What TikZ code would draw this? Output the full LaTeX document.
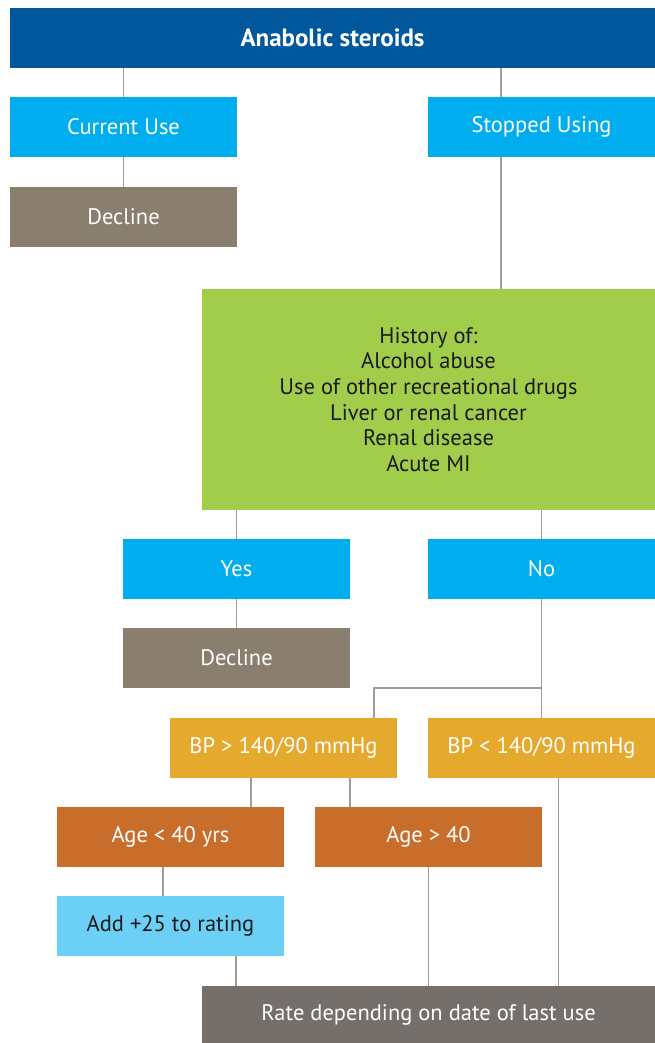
\documentclass[tikz,border=0pt]{standalone}
\usepackage{fontspec}
\setmainfont{PT Sans}
\definecolor{asnavy}{HTML}{00579B}
\definecolor{ascyan}{HTML}{00AEEF}
\definecolor{asbrown}{HTML}{8A7E6E}
\definecolor{asgreen}{HTML}{A2CD4A}
\definecolor{asamber}{HTML}{E5A92E}
\definecolor{asorange}{HTML}{C96D2B}
\definecolor{assky}{HTML}{6CCFF6}
\definecolor{asgray}{HTML}{756F6B}
\definecolor{asink}{HTML}{1A1A1A}
\definecolor{aswire}{HTML}{A39C94}
\tikzstyle{box} = [inner sep=0pt,outer sep=0pt,anchor=north west,minimum width=227pt,minimum height=60pt,align=center,text=white,font=\fontsize{22.5}{25.7}\selectfont]
\tikzstyle{link} = [draw=aswire,line width=1.2pt]

\begin{document}
\begin{tikzpicture}[x=1pt,y=-1pt]
\useasboundingbox (0,0) rectangle (655,1043);
\node[box,fill=asnavy,minimum width=645pt,font=\fontsize{25}{28}\selectfont\bfseries] at (10,8) (top) {Anabolic steroids};
\node[box,fill=ascyan] at (10,97) (cur) {Current Use};
\node[box,fill=ascyan] at (428,97) (stop) {Stopped Using};
\node[box,fill=asbrown] at (10,187) (dec1) {Decline};
\node[box,fill=asgreen,text=asink,minimum width=453pt,minimum height=221pt] at (202,289) (hist) {History of:\\Alcohol abuse\\Use of other recreational drugs\\Liver or renal cancer\\Renal disease\\Acute MI};
\node[box,fill=ascyan] at (123,539) (yes) {Yes};
\node[box,fill=ascyan] at (428,539) (no) {No};
\node[box,fill=asbrown] at (123,628) (dec2) {Decline};
\node[box,fill=asamber] at (170,718) (bphi) {BP > 140/90 mmHg};
\node[box,fill=asamber] at (428,718) (bplo) {BP < 140/90 mmHg};
\node[box,fill=asorange] at (57,807) (agelo) {Age < 40 yrs};
\node[box,fill=asorange] at (315,807) (agehi) {Age > 40};
\node[box,fill=assky,text=asink] at (57,896) (add) {Add +25 to rating};
\node[box,fill=asgray,minimum width=453pt,minimum height=57pt] at (202,986) (rate) {Rate depending on date of last use};

\foreach \a/\b in {top/cur,cur/dec1,hist/yes,hist/no,yes/dec2,no/bplo,agehi/rate}
	\draw[link] (\b.north |- \a.south) -- (\b.north);
\draw[link] ([xshift=-40.5pt]stop.north) -- ([xshift=-40.5pt]stop.north |- top.south);
\draw[link] ([xshift=-40.5pt]stop.south) -- ([xshift=-40.5pt]stop.south |- hist.north);
\draw[link] (no.south |- dec2.south) -| ([xshift=90.5pt]bphi.north);
\draw[link] ([xshift=-32.5pt]bphi.south) -- ([xshift=-32.5pt]bphi.south |- agelo.north);
\draw[link] ([xshift=66.5pt]bphi.south) -- ([xshift=66.5pt]bphi.south |- agehi.north);
\draw[link] ([xshift=-7.5pt]agelo.south) -- ([xshift=-7.5pt]agelo.south |- add.north);
\draw[link] ([xshift=65.5pt]add.south) -- ([xshift=65.5pt]add.south |- rate.north);
\draw[link] ([xshift=17pt]bplo.south) -- ([xshift=17pt]bplo.south |- rate.north);
\end{tikzpicture}
\end{document}
